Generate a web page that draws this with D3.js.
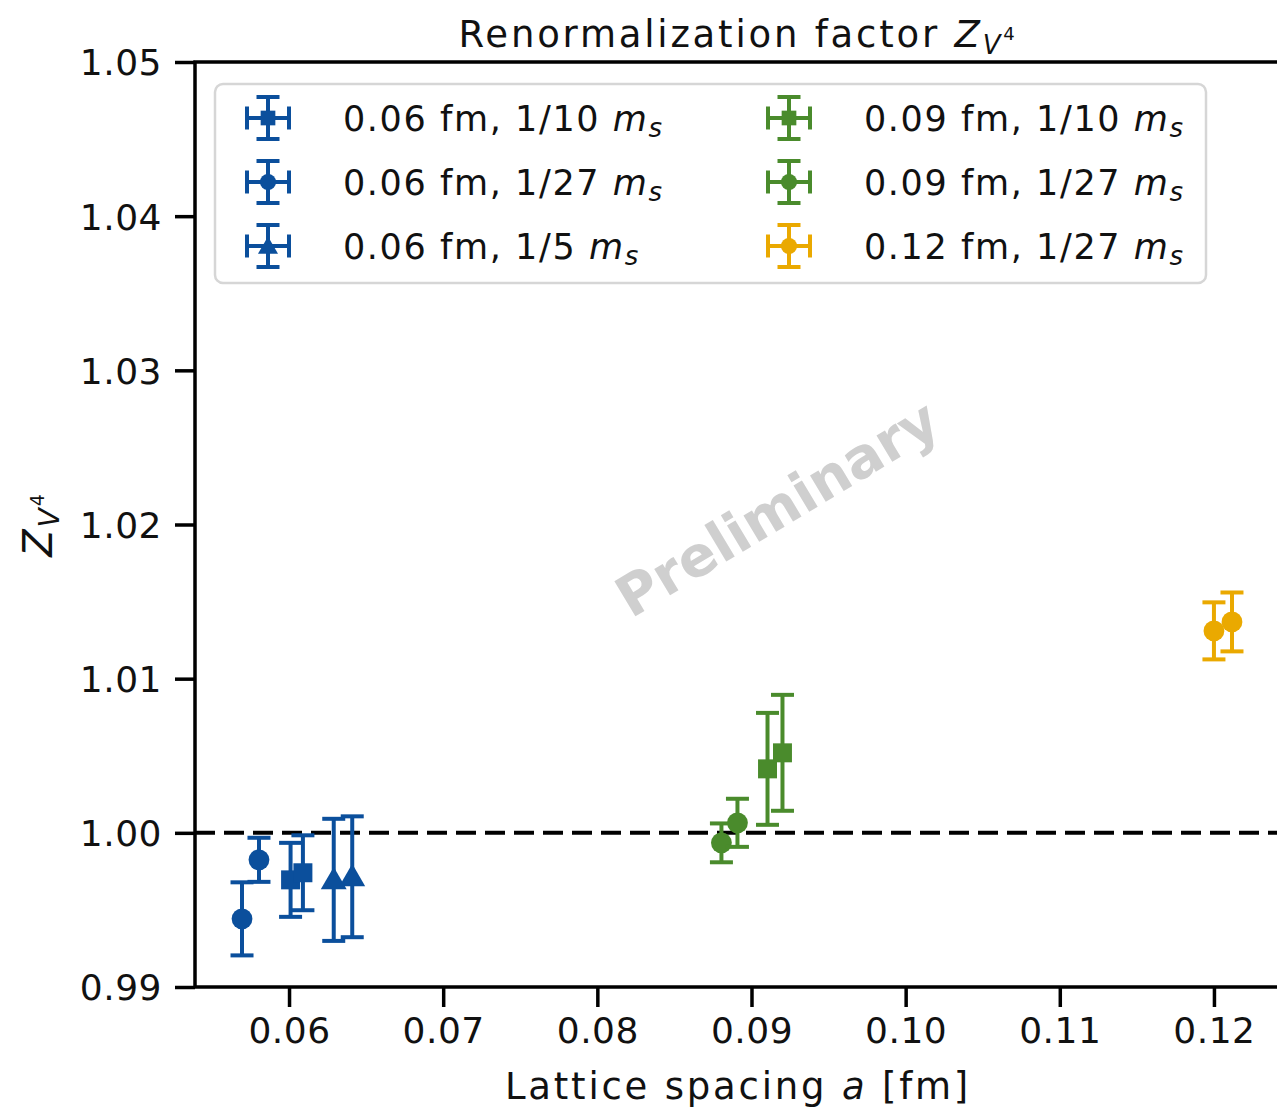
<!DOCTYPE html>
<html>
<head>
<meta charset="utf-8">
<script src="https://cdn.jsdelivr.net/npm/d3@7"></script>
<style>
  body { margin: 0; background: #fff; }
  svg { display: block; font-family: 'DejaVu Sans', sans-serif; }
</style>
</head>
<body>
<div id="chart"></div>
<script>
/* global d3 */

// series, in legend order (column-major)
const seriesLabels = ['0.06 fm, 1/10', '0.06 fm, 1/27', '0.06 fm, 1/5', '0.09 fm, 1/10', '0.09 fm, 1/27', '0.12 fm, 1/27'];
const seriesColors = ['#0b4f9c', '#0b4f9c', '#0b4f9c', '#4a8b2c', '#4a8b2c', '#eaa900'];
const seriesShapes = ['square', 'circle', 'triangle', 'square', 'circle', 'circle'];

// lattice spacing a [fm], Z value and its error, per series
const spacingVals = [
  [0.0601, 0.0609],
  [0.05695, 0.05805],
  [0.0629, 0.0641],
  [0.09104, 0.09201],
  [0.08805, 0.08909],
  [0.1200, 0.12117],
];
const zVals = [
  [0.99695, 0.99741],
  [0.99442, 0.99825],
  [0.99695, 0.99715],
  [1.00415, 1.00519],
  [0.99935, 1.00065],
  [1.01310, 1.01368],
];
const zErrs = [
  [0.00240, 0.00243],
  [0.00237, 0.00143],
  [0.00396, 0.00392],
  [0.00363, 0.00376],
  [0.00126, 0.00156],
  [0.00185, 0.00191],
];

const xTicks = [0.06, 0.07, 0.08, 0.09, 0.10, 0.11, 0.12];
const yTicks = [0.99, 1.00, 1.01, 1.02, 1.03, 1.04, 1.05];

const width = 1277;
const height = 1109;
const plot = { left: 195, right: 1281, top: 62, bottom: 987 };

const x = d3.scaleLinear().domain([0.0539, 0.12435]).range([plot.left, plot.right]);
const y = d3.scaleLinear().domain([0.99, 1.05]).range([plot.bottom, plot.top]);

const svg = d3.select('#chart').append('svg')
  .attr('width', width)
  .attr('height', height);

// watermark
svg.append('text')
  .attr('transform', `translate(${x(0.0918)},${y(1.0208)}) rotate(-31)`)
  .attr('text-anchor', 'middle')
  .attr('dominant-baseline', 'middle')
  .attr('font-size', 56)
  .attr('font-weight', 'bold')
  .attr('fill', '#cfcfcf')
  .text('Preliminary');

// reference line at 1
svg.append('line')
  .attr('x1', plot.left).attr('x2', plot.right)
  .attr('y1', y(1)).attr('y2', y(1))
  .attr('stroke', '#000')
  .attr('stroke-width', 4)
  .attr('stroke-dasharray', '20,9');

const symbolFor = {
  square: d3.symbolSquare,
  circle: d3.symbolCircle,
  triangle: d3.symbolTriangle,
};
const symbolSize = { square: 360, circle: 340, triangle: 290 };

function drawErrorbar(g, color, shape, cx, cy, yTop, yBot, withX) {
  const cap = 11.5;
  const lw = 4;
  g.append('line')
    .attr('x1', cx).attr('x2', cx).attr('y1', yTop).attr('y2', yBot)
    .attr('stroke', color).attr('stroke-width', lw);
  [yTop, yBot].forEach((yy) => {
    g.append('line')
      .attr('x1', cx - cap).attr('x2', cx + cap).attr('y1', yy).attr('y2', yy)
      .attr('stroke', color).attr('stroke-width', lw);
  });
  if (withX) {
    const half = cy - yTop;
    g.append('line')
      .attr('x1', cx - half).attr('x2', cx + half).attr('y1', cy).attr('y2', cy)
      .attr('stroke', color).attr('stroke-width', lw);
    [cx - half, cx + half].forEach((xx) => {
      g.append('line')
        .attr('x1', xx).attr('x2', xx).attr('y1', cy - cap).attr('y2', cy + cap)
        .attr('stroke', color).attr('stroke-width', lw);
    });
  }
  const sym = d3.symbol().type(symbolFor[shape]).size(withX ? symbolSize[shape] * 0.6 : symbolSize[shape]);
  g.append('path')
    .attr('d', sym())
    .attr('transform', `translate(${cx},${cy + (shape === 'triangle' ? 2 : 0)})`)
    .attr('fill', color);
}

// data points
const pointsG = svg.append('g').attr('class', 'points');
seriesLabels.forEach((label, i) => {
  spacingVals[i].forEach((a, j) => {
    drawErrorbar(pointsG, seriesColors[i], seriesShapes[i],
      x(a), y(zVals[i][j]), y(zVals[i][j] + zErrs[i][j]), y(zVals[i][j] - zErrs[i][j]), false);
  });
});

// axes
const xAxis = svg.append('g')
  .attr('transform', `translate(0,${plot.bottom})`)
  .call(d3.axisBottom(x).tickValues(xTicks).tickFormat(d3.format('.2f')).tickSize(20).tickPadding(10));
const yAxis = svg.append('g')
  .attr('transform', `translate(${plot.left},0)`)
  .call(d3.axisLeft(y).tickValues(yTicks).tickFormat(d3.format('.2f')).tickSize(20).tickPadding(13));
[xAxis, yAxis].forEach((ax) => {
  ax.select('.domain').remove();
  ax.selectAll('.tick line').attr('stroke', '#000').attr('stroke-width', 3.5);
  ax.selectAll('.tick text')
    .attr('fill', '#111')
    .attr('font-size', 36)
    .attr('letter-spacing', 0.5)
    .attr('font-family', 'DejaVu Sans');
});
yAxis.selectAll('.tick text').attr('dy', '0.36em');

// spines
svg.append('rect')
  .attr('x', plot.left).attr('y', plot.top)
  .attr('width', plot.right - plot.left).attr('height', plot.bottom - plot.top)
  .attr('fill', 'none')
  .attr('stroke', '#000')
  .attr('stroke-width', 3.5);

// title
const title = svg.append('text')
  .attr('x', (plot.left + plot.right) / 2)
  .attr('y', 47)
  .attr('text-anchor', 'middle')
  .attr('font-size', 37)
  .attr('letter-spacing', 2.8)
  .attr('fill', '#111');
title.append('tspan').text('Renormalization factor ');
title.append('tspan').attr('font-style', 'italic').text('Z');
title.append('tspan').attr('font-style', 'italic').attr('font-size', 26).attr('dy', 7).text('V');
title.append('tspan').attr('font-size', 18).attr('dy', -14).text('4');

// x label
const xLabel = svg.append('text')
  .attr('x', (plot.left + plot.right) / 2)
  .attr('y', 1099)
  .attr('text-anchor', 'middle')
  .attr('font-size', 37)
  .attr('letter-spacing', 2.8)
  .attr('fill', '#111');
xLabel.append('tspan').text('Lattice spacing ');
xLabel.append('tspan').attr('font-style', 'italic').text('a');
xLabel.append('tspan').text(' [fm]');

// y label
const yLabel = svg.append('text')
  .attr('transform', `translate(52,${(plot.top + plot.bottom) / 2}) rotate(-90)`)
  .attr('text-anchor', 'middle')
  .attr('font-size', 40)
  .attr('letter-spacing', 2)
  .attr('fill', '#111');
yLabel.append('tspan').attr('font-style', 'italic').text('Z');
yLabel.append('tspan').attr('font-style', 'italic').attr('font-size', 28).attr('dy', 7).text('V');
yLabel.append('tspan').attr('font-size', 19).attr('dy', -15).text('4');

// legend
const legend = svg.append('g').attr('class', 'legend');
legend.append('rect')
  .attr('x', 215).attr('y', 84)
  .attr('width', 991).attr('height', 199)
  .attr('rx', 8)
  .attr('fill', '#fff')
  .attr('fill-opacity', 0.8)
  .attr('stroke', '#d6d6d6')
  .attr('stroke-width', 2.5);

const colX = [268, 789];
const rowY = [118, 182, 246];
seriesLabels.forEach((label, i) => {
  const col = Math.floor(i / 3);
  const row = i % 3;
  const cx = colX[col];
  const cy = rowY[row];
  drawErrorbar(legend, seriesColors[i], seriesShapes[i], cx, cy, cy - 21, cy + 21, true);
  const t = legend.append('text')
    .attr('x', cx + 75)
    .attr('y', cy + 13)
    .attr('font-size', 35)
    .attr('letter-spacing', 1.6)
    .attr('fill', '#111');
  t.append('tspan').text(`${label} `);
  t.append('tspan').attr('font-style', 'italic').text('m');
  t.append('tspan').attr('font-style', 'italic').attr('font-size', 26).attr('dy', 6).text('s');
});
</script>
</body>
</html>
